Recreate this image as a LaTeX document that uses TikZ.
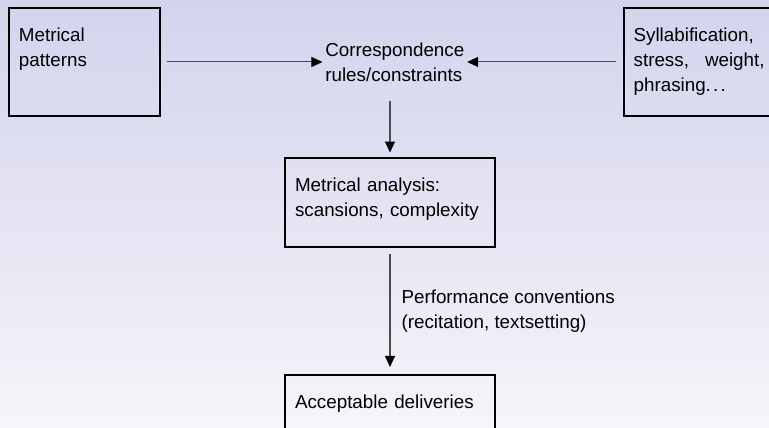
\documentclass[tikz,border=0pt]{standalone}
\usepackage{fontspec}
\setmainfont{Liberation Sans}
\usepackage{xcolor}
\usetikzlibrary{arrows.meta,positioning}

\definecolor{slidetop}{RGB}{211,211,237}
\definecolor{slidebottom}{RGB}{245,245,250}

\begin{document}
\begin{tikzpicture}[
        every node/.style={font=\fontsize{10.7}{14.2}\selectfont},
        block/.style={rectangle, draw, line width=1.1pt, text width=2.62cm, inner xsep=0.2cm, inner ysep=0.4cm, text height=0.27cm, text depth=1.09cm},
        wideblock/.style={block, text width=3.8cm, text depth=0.71cm, align=left},
        rule/.style={inner xsep=0.05cm, inner ysep=0.05cm, align=left},
        arrow/.style={draw=black!70, line width=0.6pt, -{Triangle[length=0.22cm, width=0.2cm, black]}}
    ]
        % Background
        \path[use as bounding box, clip] (0,0) rectangle (15.38,-8.54);
        \shade[top color=slidetop, bottom color=slidebottom] (0,0) rectangle (15.38,-8.54);

        % Inputs
        \node[block, anchor=north west, align=left] (patterns) at (0.16,-0.14) {Metrical\\patterns};
        \node[rule, right=3.23cm of patterns] (rules) {Correspondence\\rules/constraints};
        \node[block, right=3.11cm of rules, align=justify] (prosody) {Syllabification,\\stress, weight,\linebreak phrasing.\kern0.12em.\kern0.12em.};

        % Analysis and output
        \node[wideblock, anchor=north] (analysis) at (7.8,-3.14) {Metrical analysis:\\scansions, complexity};
        \node[wideblock, below=2.52cm of analysis] (deliveries) {Acceptable deliveries};

        % Connections
        \draw[arrow, shorten <=0.12cm] (patterns) -- (rules);
        \draw[arrow, shorten <=0.14cm] (prosody) -- (rules);
        \draw[arrow, shorten <=0.34cm, shorten >=0.09cm] (rules.south -| analysis.north) -- (analysis.north);
        \draw[arrow, shorten <=0.12cm, shorten >=0.14cm] (analysis) -- node[right, align=left, inner xsep=0.22cm] {Performance conventions\\(recitation, textsetting)} (deliveries);
    \end{tikzpicture}
\end{document}
